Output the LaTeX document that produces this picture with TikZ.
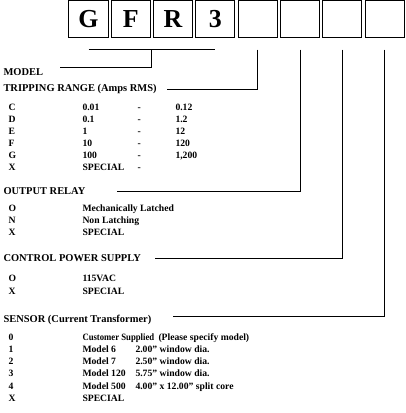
\documentclass[tikz,border=0pt]{standalone}
\usepackage{fontspec}
\setmainfont{Liberation Serif}
\usetikzlibrary{calc}
\begin{document}
\begin{tikzpicture}[x=1bp, y=-1bp, line width=1bp,
    box/.style={draw, minimum width=39bp, minimum height=37bp, inner sep=0pt,
      font=\fontsize{26}{26}\selectfont\bfseries},
    head/.style={anchor=base west, inner sep=0pt, font=\fontsize{10.5}{12}\selectfont\bfseries},
    item/.style={anchor=base west, inner sep=0pt, font=\fontsize{9.7}{12}\selectfont\bfseries}]
  \useasboundingbox (0,0) rectangle (406,413);
  % code boxes
  \foreach \i/\l in {1/G, 2/F, 3/R, 4/3, 5/, 6/, 7/, 8/} {
    \node[box] (b\i) at (46.2+42.3*\i,19) {\l};
  }
  % headings
  \node[head] (model) at (3,75) {MODEL};
  \node[head] (trip) at (3,91.5) {TRIPPING RANGE (Amps RMS)};
  \node[head] (relay) at (3,194.5) {OUTPUT RELAY};
  \node[head] (cps) at (3,261.5) {CONTROL POWER SUPPLY};
  \node[head] (sensor) at (3,322) {SENSOR (Current Transformer)};
  % tripping range
  \foreach \k/\c/\lo/\hi in {0/C/0.01/0.12, 1/D/0.1/1.2, 2/E/1/12, 3/F/10/120, 4/G/100/{1,200}} {
    \node[item] (tc\k) at (8,110.5+12*\k) {\c};
    \node[item] (tl\k) at (82,110.5+12*\k) {\lo};
    \node[item] (td\k) at (137,110.5+12*\k) {-};
    \node[item] (th\k) at (175,110.5+12*\k) {\hi};
  }
  \node[item] (tc5) at (8,170.5) {X};
  \node[item] (tl5) at (82,170.5) {SPECIAL};
  \node[item] (td5) at (137,170.5) {-};
  % output relay
  \foreach \k/\c/\t in {0/O/Mechanically Latched, 1/N/Non Latching, 2/X/SPECIAL} {
    \node[item] (rc\k) at (8,211.5+12*\k) {\c};
    \node[item] (rt\k) at (82,211.5+12*\k) {\t};
  }
  % control power supply
  \foreach \k/\c/\t in {0/O/115VAC, 1/X/SPECIAL} {
    \node[item] (pc\k) at (8,281.5+13*\k) {\c};
    \node[item] (pt\k) at (82,281.5+13*\k) {\t};
  }
  % sensor
  \node[item] (sc0) at (8,340) {0};
  \node[item] (st0) at (82,340) {\scalebox{0.9}[1]{Customer Supplied}};
  \node[item] (sn0) at (158,340) {(Please specify model)};
  \foreach \k/\c/\m/\d in {1/1/Model 6/2.00'' window dia., 2/2/Model 7/2.50'' window dia.,
      3/3/Model 120/5.75'' window dia., 4/4/Model 500/4.00'' x 12.00'' split core} {
    \node[item] (sc\k) at (8,340+12.3*\k) {\c};
    \node[item] (st\k) at (82,340+12.3*\k) {\m};
    \node[item] (sn\k) at (135,340+12.3*\k) {\d};
  }
  \node[item] (sc5) at (8,401.5) {X};
  \node[item] (st5) at (82,401.5) {SPECIAL};
  % connectors
  \coordinate (mend) at (60,67);
  \coordinate (tend) at (167,89);
  \coordinate (rend) at (117,191);
  \coordinate (pend) at (155,258);
  \coordinate (send) at (173,316);
  \draw ([yshift=-11bp]b1.south) -- ([yshift=-11bp]b4.south);
  \draw ($(b2.south)!.5!(b3.south)+(0,11)$) |- (mend);
  \draw ([yshift=-11.5bp]b5.south) |- (tend);
  \draw ([yshift=-11.5bp]b6.south) |- (rend);
  \draw ([yshift=-11.5bp]b7.south) |- (pend);
  \draw ([yshift=-11.5bp]b8.south) |- (send);
\end{tikzpicture}
\end{document}
